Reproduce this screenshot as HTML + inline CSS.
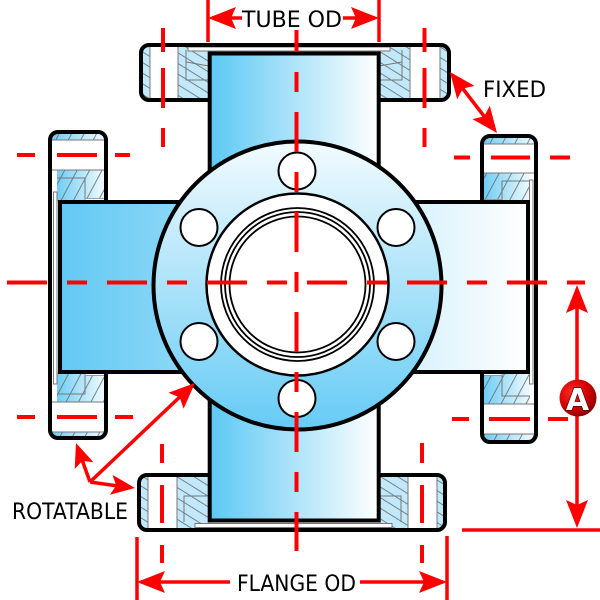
<!DOCTYPE html>
<html><head><meta charset="utf-8">
<style>html,body{margin:0;padding:0;background:#fff}svg{display:block}</style>
</head>
<body>
<svg width="600" height="600" viewBox="0 0 600 600" xmlns="http://www.w3.org/2000/svg">
<defs>
 <linearGradient id="tubeV" x1="0" y1="0" x2="1" y2="0">
  <stop offset="0" stop-color="#5cc8f4"/><stop offset="1" stop-color="#ffffff"/>
 </linearGradient>
 <linearGradient id="tubeH" gradientUnits="userSpaceOnUse" x1="60" y1="0" x2="528" y2="0">
  <stop offset="0" stop-color="#62c9f4"/><stop offset="1" stop-color="#ffffff"/>
 </linearGradient>
 <linearGradient id="circ" x1="0" y1="0" x2="0" y2="1">
  <stop offset="0" stop-color="#f2fbfe"/><stop offset="1" stop-color="#66cbf5"/>
 </linearGradient>
 <linearGradient id="sideH" x1="0" y1="0" x2="1" y2="0">
  <stop offset="0" stop-color="#6fcdf5"/><stop offset="1" stop-color="#f0faff"/>
 </linearGradient>
 <pattern id="hatchT" patternUnits="userSpaceOnUse" width="9" height="9" patternTransform="rotate(32)">
  <line x1="0" y1="4.5" x2="9" y2="4.5" stroke="#666" stroke-width="0.8"/>
 </pattern>
 <pattern id="hatchS" patternUnits="userSpaceOnUse" width="11" height="11" patternTransform="rotate(-62)">
  <line x1="0" y1="5" x2="11" y2="5" stroke="#666" stroke-width="0.8"/>
 </pattern>
 <radialGradient id="redA" cx="0.35" cy="0.35" r="0.7">
  <stop offset="0" stop-color="#ff2a2a"/><stop offset="0.6" stop-color="#d40000"/><stop offset="1" stop-color="#8a0000"/>
 </radialGradient>
</defs>

<!-- TOP FLANGE -->
<g>
 <rect x="141" y="45" width="308" height="55" rx="8" fill="#fff"/>
 <g fill="#c2e9fb">
  <rect x="143" y="47" width="7" height="51"/>
  <rect x="178" y="47" width="31" height="51"/>
  <rect x="379" y="47" width="31" height="51"/>
  <rect x="440" y="47" width="7" height="51"/>
 </g>
 <g fill="url(#hatchT)">
  <rect x="143" y="47" width="7" height="51"/>
  <rect x="178" y="47" width="31" height="51"/>
  <rect x="379" y="47" width="31" height="51"/>
  <rect x="440" y="47" width="7" height="51"/>
 </g>
 <g stroke="#777" stroke-width="1" fill="none">
  <line x1="150" y1="47" x2="150" y2="98"/>
  <line x1="178" y1="47" x2="178" y2="98"/>
  <line x1="410" y1="47" x2="410" y2="98"/>
  <line x1="440" y1="47" x2="440" y2="98"/>
  <polyline points="186,50 186,80 209,80"/>
  <polyline points="186,62 209,66"/>
  <polyline points="402,50 402,80 379,80"/>
  <polyline points="402,62 379,66"/>
 </g>
 <rect x="188" y="47" width="202" height="4" fill="#fff" stroke="#777" stroke-width="1"/>
 <rect x="141" y="45" width="308" height="55" rx="8" fill="none" stroke="#000" stroke-width="4"/>
</g>

<!-- BOTTOM FLANGE -->
<g>
 <rect x="139" y="475" width="306" height="55" rx="8" fill="#fff"/>
 <g fill="#c2e9fb">
  <rect x="141" y="477" width="7" height="51"/>
  <rect x="177" y="477" width="32" height="51"/>
  <rect x="379" y="477" width="29" height="51"/>
  <rect x="437" y="477" width="6" height="51"/>
 </g>
 <g fill="url(#hatchT)">
  <rect x="141" y="477" width="7" height="51"/>
  <rect x="177" y="477" width="32" height="51"/>
  <rect x="379" y="477" width="29" height="51"/>
  <rect x="437" y="477" width="6" height="51"/>
 </g>
 <g stroke="#777" stroke-width="1" fill="none">
  <line x1="148" y1="477" x2="148" y2="528"/>
  <line x1="177" y1="477" x2="177" y2="528"/>
  <line x1="408" y1="477" x2="408" y2="528"/>
  <line x1="437" y1="477" x2="437" y2="528"/>
  <polyline points="209,496 184,496 184,522"/>
  <polyline points="379,496 401,496 401,522"/>
 </g>
 <rect x="195" y="523.5" width="197" height="4" fill="#fff" stroke="#777" stroke-width="1"/>
 <rect x="139" y="475" width="306" height="55" rx="8" fill="none" stroke="#000" stroke-width="4"/>
</g>

<!-- LEFT FLANGE -->
<g>
 <rect x="50" y="132" width="56" height="306" rx="8" fill="#fff"/>
 <g fill="url(#sideH)">
  <rect x="52" y="134" width="52" height="6"/>
  <rect x="57" y="170" width="47" height="32"/>
  <rect x="57" y="372" width="47" height="30"/>
  <rect x="52" y="432" width="52" height="4"/>
 </g>
 <g fill="url(#hatchS)">
  <rect x="52" y="134" width="52" height="6"/>
  <rect x="57" y="170" width="47" height="32"/>
  <rect x="57" y="372" width="47" height="30"/>
  <rect x="52" y="432" width="52" height="4"/>
 </g>
 <g stroke="#777" stroke-width="1" fill="none">
  <line x1="52" y1="140" x2="104" y2="140"/>
  <line x1="52" y1="170" x2="104" y2="170"/>
  <line x1="52" y1="402" x2="104" y2="402"/>
  <line x1="52" y1="432" x2="104" y2="432"/>
  <polyline points="57,178 85,178 85,200"/>
  <polyline points="57,394 85,394 85,374"/>
 </g>
 <rect x="85" y="198.5" width="21" height="3" fill="#fff" stroke="#888" stroke-width="0.8"/>
 <rect x="85" y="372.5" width="21" height="3" fill="#fff" stroke="#888" stroke-width="0.8"/>
 <rect x="53.5" y="192" width="3.5" height="192" fill="#fff" stroke="#777" stroke-width="1"/>
 <rect x="50" y="132" width="56" height="306" rx="8" fill="none" stroke="#000" stroke-width="4"/>
</g>

<!-- RIGHT FLANGE -->
<g>
 <rect x="482" y="136" width="54" height="306" rx="8" fill="#fff"/>
 <g fill="url(#sideH)">
  <rect x="484" y="138" width="50" height="6"/>
  <rect x="484" y="173" width="46" height="30"/>
  <rect x="484" y="373" width="46" height="31"/>
  <rect x="484" y="434" width="50" height="6"/>
 </g>
 <g fill="url(#hatchS)">
  <rect x="484" y="138" width="50" height="6"/>
  <rect x="484" y="173" width="46" height="30"/>
  <rect x="484" y="373" width="46" height="31"/>
  <rect x="484" y="434" width="50" height="6"/>
 </g>
 <g stroke="#777" stroke-width="1" fill="none">
  <line x1="484" y1="144" x2="534" y2="144"/>
  <line x1="484" y1="173" x2="534" y2="173"/>
  <line x1="484" y1="404" x2="534" y2="404"/>
  <line x1="484" y1="434" x2="534" y2="434"/>
  <polyline points="502,202 502,181 530,181"/>
  <polyline points="502,374 502,396 530,396"/>
 </g>
 <rect x="482" y="199.5" width="20" height="3" fill="#fff" stroke="#888" stroke-width="0.8"/>
 <rect x="482" y="372.5" width="20" height="3" fill="#fff" stroke="#888" stroke-width="0.8"/>
 <rect x="529.5" y="180" width="3.5" height="204" fill="#fff" stroke="#777" stroke-width="1"/>
 <rect x="482" y="136" width="54" height="306" rx="8" fill="none" stroke="#000" stroke-width="4"/>
</g>

<!-- TUBES -->
<rect x="60" y="202" width="468" height="170" fill="url(#tubeH)" stroke="#000" stroke-width="4"/>
<rect x="209.7" y="53.5" width="169" height="467" fill="url(#tubeV)" stroke="#000" stroke-width="4"/>

<!-- ROUND FLANGE -->
<circle cx="297.5" cy="285.5" r="144" fill="url(#circ)" stroke="#000" stroke-width="4"/>
<circle cx="297.5" cy="284.5" r="91" fill="#fff" stroke="#000" stroke-width="2.5"/>
<g fill="none" stroke="#000" stroke-width="1.8">
 <circle cx="297.5" cy="284.5" r="76.5"/>
 <circle cx="297.5" cy="284.5" r="72.5"/>
 <circle cx="297.5" cy="284.5" r="68"/>
</g>
<g fill="#fff" stroke="#000" stroke-width="2">
 <circle cx="297" cy="171" r="18.5"/>
 <circle cx="297" cy="398.5" r="18.5"/>
 <circle cx="199" cy="227.5" r="18.5"/>
 <circle cx="396" cy="227.5" r="18.5"/>
 <circle cx="199" cy="341.5" r="18.5"/>
 <circle cx="396" cy="341.5" r="18.5"/>
</g>

<!-- CENTER LINES -->
<g stroke="#ff0000" stroke-width="4" fill="none">
 <line x1="296.5" y1="30" x2="296.5" y2="551" stroke-dasharray="40 20 20 20" stroke-dashoffset="18"/>
 <line x1="7" y1="282.5" x2="585" y2="282.5" stroke-dasharray="40 20 20 20"/>
 <line x1="163" y1="28" x2="163" y2="52"/><line x1="163" y1="68" x2="163" y2="108"/><line x1="163" y1="128" x2="163" y2="147"/>
 <line x1="424.5" y1="28" x2="424.5" y2="52"/><line x1="424.5" y1="68" x2="424.5" y2="108"/><line x1="424.5" y1="128" x2="424.5" y2="147"/>
 <line x1="162" y1="444" x2="162" y2="463"/><line x1="162" y1="485" x2="162" y2="523"/><line x1="162" y1="545" x2="162" y2="563"/>
 <line x1="422" y1="443" x2="422" y2="463"/><line x1="422" y1="485" x2="422" y2="523"/><line x1="422" y1="545" x2="422" y2="563"/>
 <line x1="17" y1="155" x2="35" y2="155"/><line x1="57" y1="155" x2="97" y2="155"/><line x1="115" y1="155" x2="130" y2="155"/>
 <line x1="17" y1="417" x2="35" y2="417"/><line x1="57" y1="417" x2="97" y2="417"/><line x1="115" y1="417" x2="133" y2="417"/>
 <line x1="454" y1="157.5" x2="470" y2="157.5"/><line x1="491" y1="157.5" x2="530" y2="157.5"/><line x1="550" y1="157.5" x2="570" y2="157.5"/>
 <line x1="452" y1="419" x2="469" y2="419"/><line x1="489" y1="419" x2="530" y2="419"/><line x1="548" y1="419" x2="568" y2="419"/>
</g>

<!-- DIMENSIONS -->
<g stroke="#ff0000" stroke-width="3.5" fill="none">
 <line x1="208" y1="0" x2="208" y2="42"/>
 <line x1="379" y1="0" x2="379" y2="42"/>
 <line x1="212" y1="18" x2="242" y2="18"/>
 <line x1="343" y1="18" x2="375" y2="18"/>
 <line x1="137" y1="537" x2="137" y2="600"/>
 <line x1="447" y1="536" x2="447" y2="600"/>
 <line x1="141" y1="582" x2="230" y2="582"/>
 <line x1="360" y1="582" x2="443" y2="582"/>
 <line x1="577" y1="300" x2="577" y2="515"/>
 <line x1="462" y1="530" x2="600" y2="530"/>
 <line x1="460" y1="85" x2="487" y2="120"/>
 <line x1="90" y1="482" x2="80" y2="454"/>
 <line x1="90" y1="482" x2="125" y2="487"/>
 <line x1="90" y1="482" x2="185" y2="392"/>
</g>
<g fill="#ff0000">
 <polygon points="208,18 236,7 231,18 236,29"/>
 <polygon points="379,18 351,7 356,18 351,29"/>
 <polygon points="137,582 165,571 160,582 165,593"/>
 <polygon points="447,582 419,571 424,582 419,593"/>
 <polygon points="577,285 566,313 577,308 588,313"/>
 <polygon points="577,528 566,500 577,505 588,500"/>
 <polygon points="450,72 457.2,99.3 462.8,88.6 474.6,85.9"/>
 <polygon points="497,133 472.4,119.1 484.2,116.4 489.8,105.7"/>
 <polygon points="76,443 93.5,462.2 82.4,460.9 74.7,469"/>
 <polygon points="135,488 109.9,494.7 116.2,485.5 112.5,474.9"/>
 <polygon points="195,383 183.6,408.8 179.7,397.4 168.5,392.8"/>
</g>

<!-- LABELS -->
<g font-family="'DejaVu Sans','Liberation Sans',sans-serif" font-size="22" fill="#000">
 <text x="242" y="27" textLength="100" lengthAdjust="spacingAndGlyphs">TUBE OD</text>
 <text x="483" y="97" textLength="63" lengthAdjust="spacingAndGlyphs">FIXED</text>
 <text x="12" y="519" textLength="116" lengthAdjust="spacingAndGlyphs">ROTATABLE</text>
 <text x="237" y="591" textLength="119" lengthAdjust="spacingAndGlyphs">FLANGE OD</text>
</g>

<!-- A badge -->
<circle cx="578" cy="398" r="18.5" fill="url(#redA)"/>
<text x="577.5" y="410" text-anchor="middle" font-family="'DejaVu Sans','Liberation Sans',sans-serif" font-weight="bold" font-size="30" fill="#fff" stroke="#5a0000" stroke-width="1.5" paint-order="stroke">A</text>
</svg>
</body>
</html>
